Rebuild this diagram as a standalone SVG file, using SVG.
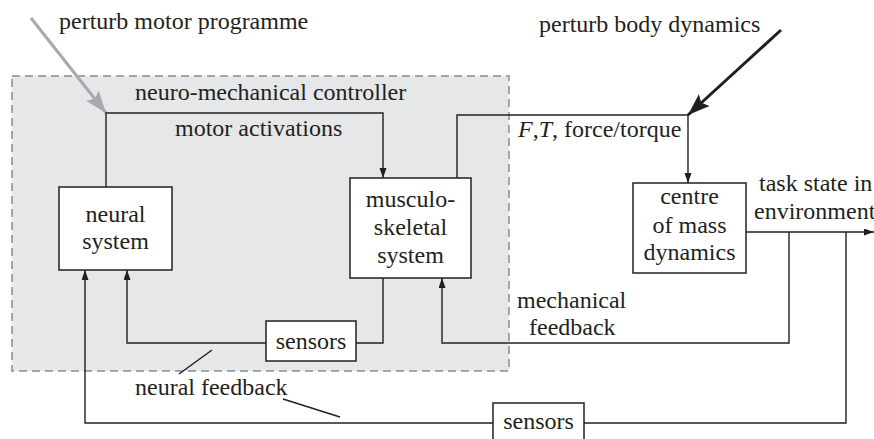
<svg xmlns="http://www.w3.org/2000/svg" width="874" height="439" viewBox="0 0 874 439">
<defs>
<style>
.box{fill:#fff;stroke:#231f20;stroke-width:1.5}
.ln{fill:none;stroke:#231f20;stroke-width:1.4}
</style>
<marker id="ah" markerUnits="userSpaceOnUse" markerWidth="10" markerHeight="8" refX="10" refY="3.5" orient="auto">
<path d="M0,0 L10,3.5 L0,7 z" fill="#231f20"/>
</marker>
<marker id="big-grey" markerUnits="userSpaceOnUse" markerWidth="24" markerHeight="18" refX="22" refY="8" orient="auto">
<path d="M0,0 L22,8 L0,16 L4,8 z" fill="#a7a9ac"/>
</marker>
<marker id="big-black" markerUnits="userSpaceOnUse" markerWidth="24" markerHeight="18" refX="22" refY="8" orient="auto">
<path d="M0,0 L22,8 L0,16 L4,8 z" fill="#231f20"/>
</marker>
</defs>
<rect x="0" y="0" width="874" height="439" fill="#ffffff"/>
<rect id="controller-region" x="12" y="76" width="497" height="295" fill="#e6e7e9" stroke="#8a8c8e" stroke-width="1.5" stroke-dasharray="8 5"/>
<g id="connectors">
<line x1="31" y1="18" x2="106" y2="113" stroke="#a7a9ac" stroke-width="3" marker-end="url(#big-grey)"/>
<line x1="781" y1="30" x2="688" y2="115" stroke="#231f20" stroke-width="3" marker-end="url(#big-black)"/>
<path class="ln" d="M106,187 V113 H383 V178" marker-end="url(#ah)"/>
<path class="ln" d="M457,178 V115 H688 V183" marker-end="url(#ah)"/>
<path class="ln" d="M746,232 H874" marker-end="url(#ah)"/>
<path class="ln" d="M789,232 V343 H442 V278" marker-end="url(#ah)"/>
<path class="ln" d="M846,232 V423 H584"/>
<path class="ln" d="M493,423 H85 V270" marker-end="url(#ah)"/>
<path class="ln" d="M383,278 V343 H356"/>
<path class="ln" d="M266,343 H127 V270" marker-end="url(#ah)"/>
<line class="ln" x1="212" y1="350" x2="179" y2="374" stroke-width="1.2"/>
<line class="ln" x1="283" y1="399" x2="340" y2="417" stroke-width="1.2"/>
</g>
<g id="neural-system">
<rect class="box" x="59" y="187" width="113" height="83"/>
<text x="115.5" y="222" font-family="Liberation Serif" font-size="24" fill="#231f20" text-anchor="middle">neural</text>
<text x="115.5" y="249" font-family="Liberation Serif" font-size="24" fill="#231f20" text-anchor="middle">system</text>
</g>
<g id="musculoskeletal-system">
<rect class="box" x="350" y="178" width="121" height="100"/>
<text x="410.5" y="207" font-family="Liberation Serif" font-size="24" fill="#231f20" text-anchor="middle">musculo-</text>
<text x="410.5" y="235" font-family="Liberation Serif" font-size="24" fill="#231f20" text-anchor="middle">skeletal</text>
<text x="410.5" y="263" font-family="Liberation Serif" font-size="24" fill="#231f20" text-anchor="middle">system</text>
</g>
<g id="centre-of-mass">
<rect class="box" x="633" y="183" width="113" height="90"/>
<text x="689.5" y="204" font-family="Liberation Serif" font-size="24" fill="#231f20" text-anchor="middle">centre</text>
<text x="689.5" y="233" font-family="Liberation Serif" font-size="24" fill="#231f20" text-anchor="middle">of mass</text>
<text x="689.5" y="260" font-family="Liberation Serif" font-size="24" fill="#231f20" text-anchor="middle">dynamics</text>
</g>
<g id="sensors-inner">
<rect class="box" x="266" y="321" width="90" height="40"/>
<text x="311" y="349" font-family="Liberation Serif" font-size="24" fill="#231f20" text-anchor="middle">sensors</text>
</g>
<g id="sensors-outer">
<rect class="box" x="493" y="403" width="91" height="40"/>
<text x="538.5" y="429" font-family="Liberation Serif" font-size="24" fill="#231f20" text-anchor="middle">sensors</text>
</g>
<g id="labels">
<text x="59" y="29" font-family="Liberation Serif" font-size="24" fill="#231f20">perturb motor programme</text>
<text x="539" y="32" font-family="Liberation Serif" font-size="24" fill="#231f20">perturb body dynamics</text>
<text x="135" y="100" font-family="Liberation Serif" font-size="24" fill="#231f20">neuro-mechanical controller</text>
<text x="175" y="136" font-family="Liberation Serif" font-size="24" fill="#231f20">motor activations</text>
<text x="518" y="137" font-family="Liberation Serif" font-size="24" fill="#231f20"><tspan font-style="italic">F</tspan>,<tspan font-style="italic">T</tspan>, force/torque</text>
<text x="759" y="191" font-family="Liberation Serif" font-size="24" fill="#231f20">task state in</text>
<text x="754" y="219" font-family="Liberation Serif" font-size="24" fill="#231f20">environment</text>
<text x="517" y="308" font-family="Liberation Serif" font-size="24" fill="#231f20">mechanical</text>
<text x="529" y="335" font-family="Liberation Serif" font-size="24" fill="#231f20">feedback</text>
<text x="135" y="395" font-family="Liberation Serif" font-size="24" fill="#231f20">neural feedback</text>
</g>
</svg>
